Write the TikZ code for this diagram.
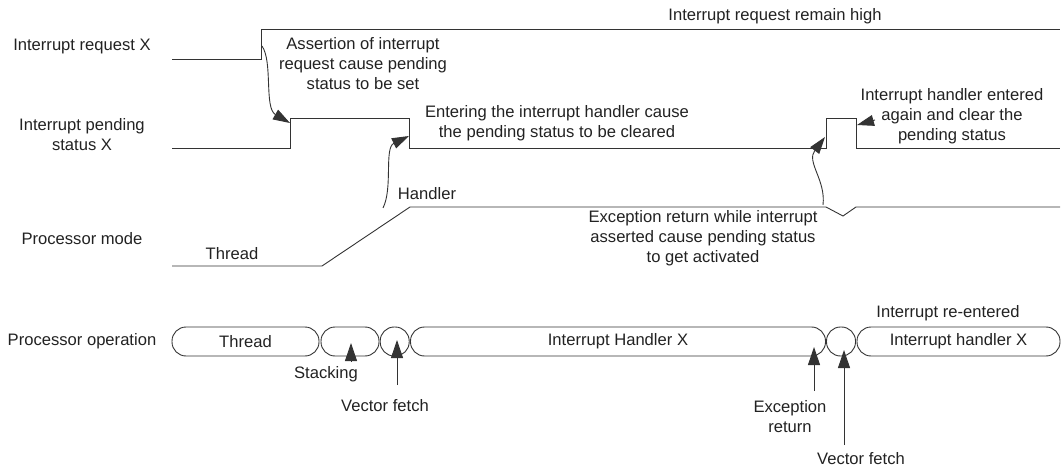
\documentclass[tikz,border=0pt]{standalone}
\usepackage{fontspec}
\setmainfont{Liberation Sans}
\usetikzlibrary{arrows.meta}
\definecolor{ink}{HTML}{222222}
\definecolor{wire}{HTML}{333333}
\begin{document}
\begin{tikzpicture}[x=1pt,y=-1pt,
  txt/.style={font=\fontsize{16.6}{20}\selectfont, text=ink, align=center, inner sep=0pt, yshift=-1.5pt},
  sig/.style={draw=wire, line width=0.9pt},
  opbox/.style={draw=wire, line width=0.9pt, rounded corners=14pt, minimum height=29pt, inner sep=0pt,
     font=\fontsize{16.6}{20}\selectfont, text=ink},
  arr/.style={draw=wire, line width=0.9pt, -{Triangle[length=17pt,width=11pt]}},
  varr/.style={draw=wire, line width=0.9pt, -{Triangle[length=18pt,width=12pt]}}
]
\useasboundingbox (0,0) rectangle (1061,468);

% left labels
\node[txt] (lblreq) at (82,45) {Interrupt request X};
\node[txt] (lblpend) at (82,133.5) {Interrupt pending\\status X};
\node[txt] (lblmode) at (82,237) {Processor mode};
\node[txt] (lblop) at (82,340) {Processor operation};

% signals
\coordinate (reqA) at (172,59);
\coordinate (reqR) at (261,59);
\coordinate (reqH) at (261,29);
\coordinate (reqE) at (1060,29);
\draw[sig] (reqA) -- (reqR) -- (reqH) -- (reqE);

\coordinate (pA) at (172,148);
\coordinate (pR1) at (290,148);
\coordinate (pF1) at (409,148);
\coordinate (pR2) at (826,148);
\coordinate (pF2) at (856,148);
\coordinate (pE) at (1060,148);
\draw[sig] (pA) -- (pR1) -- (290,118) -- (409,118) -- (pF1) -- (pR2) -- (826,118) -- (856,118) -- (pF2) -- (pE);

\coordinate (mA) at (172,266);
\coordinate (mB) at (322,266);
\coordinate (mC) at (410,207);
\coordinate (mD) at (826,207);
\coordinate (mV) at (843,216);
\coordinate (mF) at (856,207);
\coordinate (mE) at (1060,207);
\draw[sig] (mA) -- (mB) -- (mC) -- (mD) -- (mV) -- (mF) -- (mE);

% annotations
\node[txt] (remain) at (775,15) {Interrupt request remain high};
\node[txt] (assert) at (363,62) {Assertion of interrupt\\request cause pending\\status to be set};
\node[txt] (enter) at (557,122) {Entering the interrupt handler cause\\the pending status to be cleared};
\node[txt] (handler) at (427,192) {Handler};
\node[txt] (threadlbl) at (232,252) {Thread};
\node[txt] (excret) at (703,237) {Exception return while interrupt\\asserted cause pending status\\to get activated};
\node[txt] (again) at (952,115) {Interrupt handler entered\\again and clear the\\pending status};
\node[txt] (reent) at (948,312) {Interrupt re-entered};

% curved arrows
\coordinate (c1s) at (262,46);
\coordinate (c1e) at (290,123);
\draw[arr] (c1s) .. controls (273,62) and (264,108) .. (c1e);
\coordinate (c2s) at (383,208);
\coordinate (c2e) at (409,136);
\draw[arr] (c2s) .. controls (393,188) and (384,148) .. (c2e);
\coordinate (c3s) at (823,205);
\coordinate (c3e) at (825,137);
\draw[arr] (c3s) .. controls (826,180) and (806,162) .. (c3e);
\coordinate (c4s) at (875,120);
\coordinate (c4e) at (857,125);
\draw[arr] (c4s) -- (c4e);

% processor operation bar
\node[opbox, minimum width=147pt] (bthread) at (245.5,341.5) {Thread};
\node[opbox, minimum width=58pt] (bstack) at (350,341.5) {};
\node[opbox, minimum width=29pt] (bvf1) at (394.7,341.5) {};
\node[opbox, minimum width=415pt] (bhand) at (618,341.5) {Interrupt Handler X};
\node[opbox, minimum width=29pt] (bvf2) at (841,341.5) {};
\node[opbox, minimum width=203pt] (bhand2) at (958.5,341.5) {Interrupt handler X};

% bottom labels and arrows
\node[txt] (stacklbl) at (326,373) {Stacking};
\node[txt] (vf1lbl) at (385,404) {Vector fetch};
\node[txt] (exclbl) at (790,415.5) {Exception\\return};
\node[txt] (vf2lbl) at (861,457) {Vector fetch};

\coordinate (a1s) at (351,362);
\coordinate (a1e) at (351,343);
\draw[varr] (a1s) -- (a1e);
\coordinate (a2s) at (397,385);
\coordinate (a2e) at (397,340);
\draw[varr] (a2s) -- (a2e);
\coordinate (a3s) at (814,391);
\coordinate (a3e) at (814,347);
\draw[varr] (a3s) -- (a3e);
\coordinate (a4s) at (844,445);
\coordinate (a4e) at (844,350);
\draw[varr] (a4s) -- (a4e);
\end{tikzpicture}
\end{document}
